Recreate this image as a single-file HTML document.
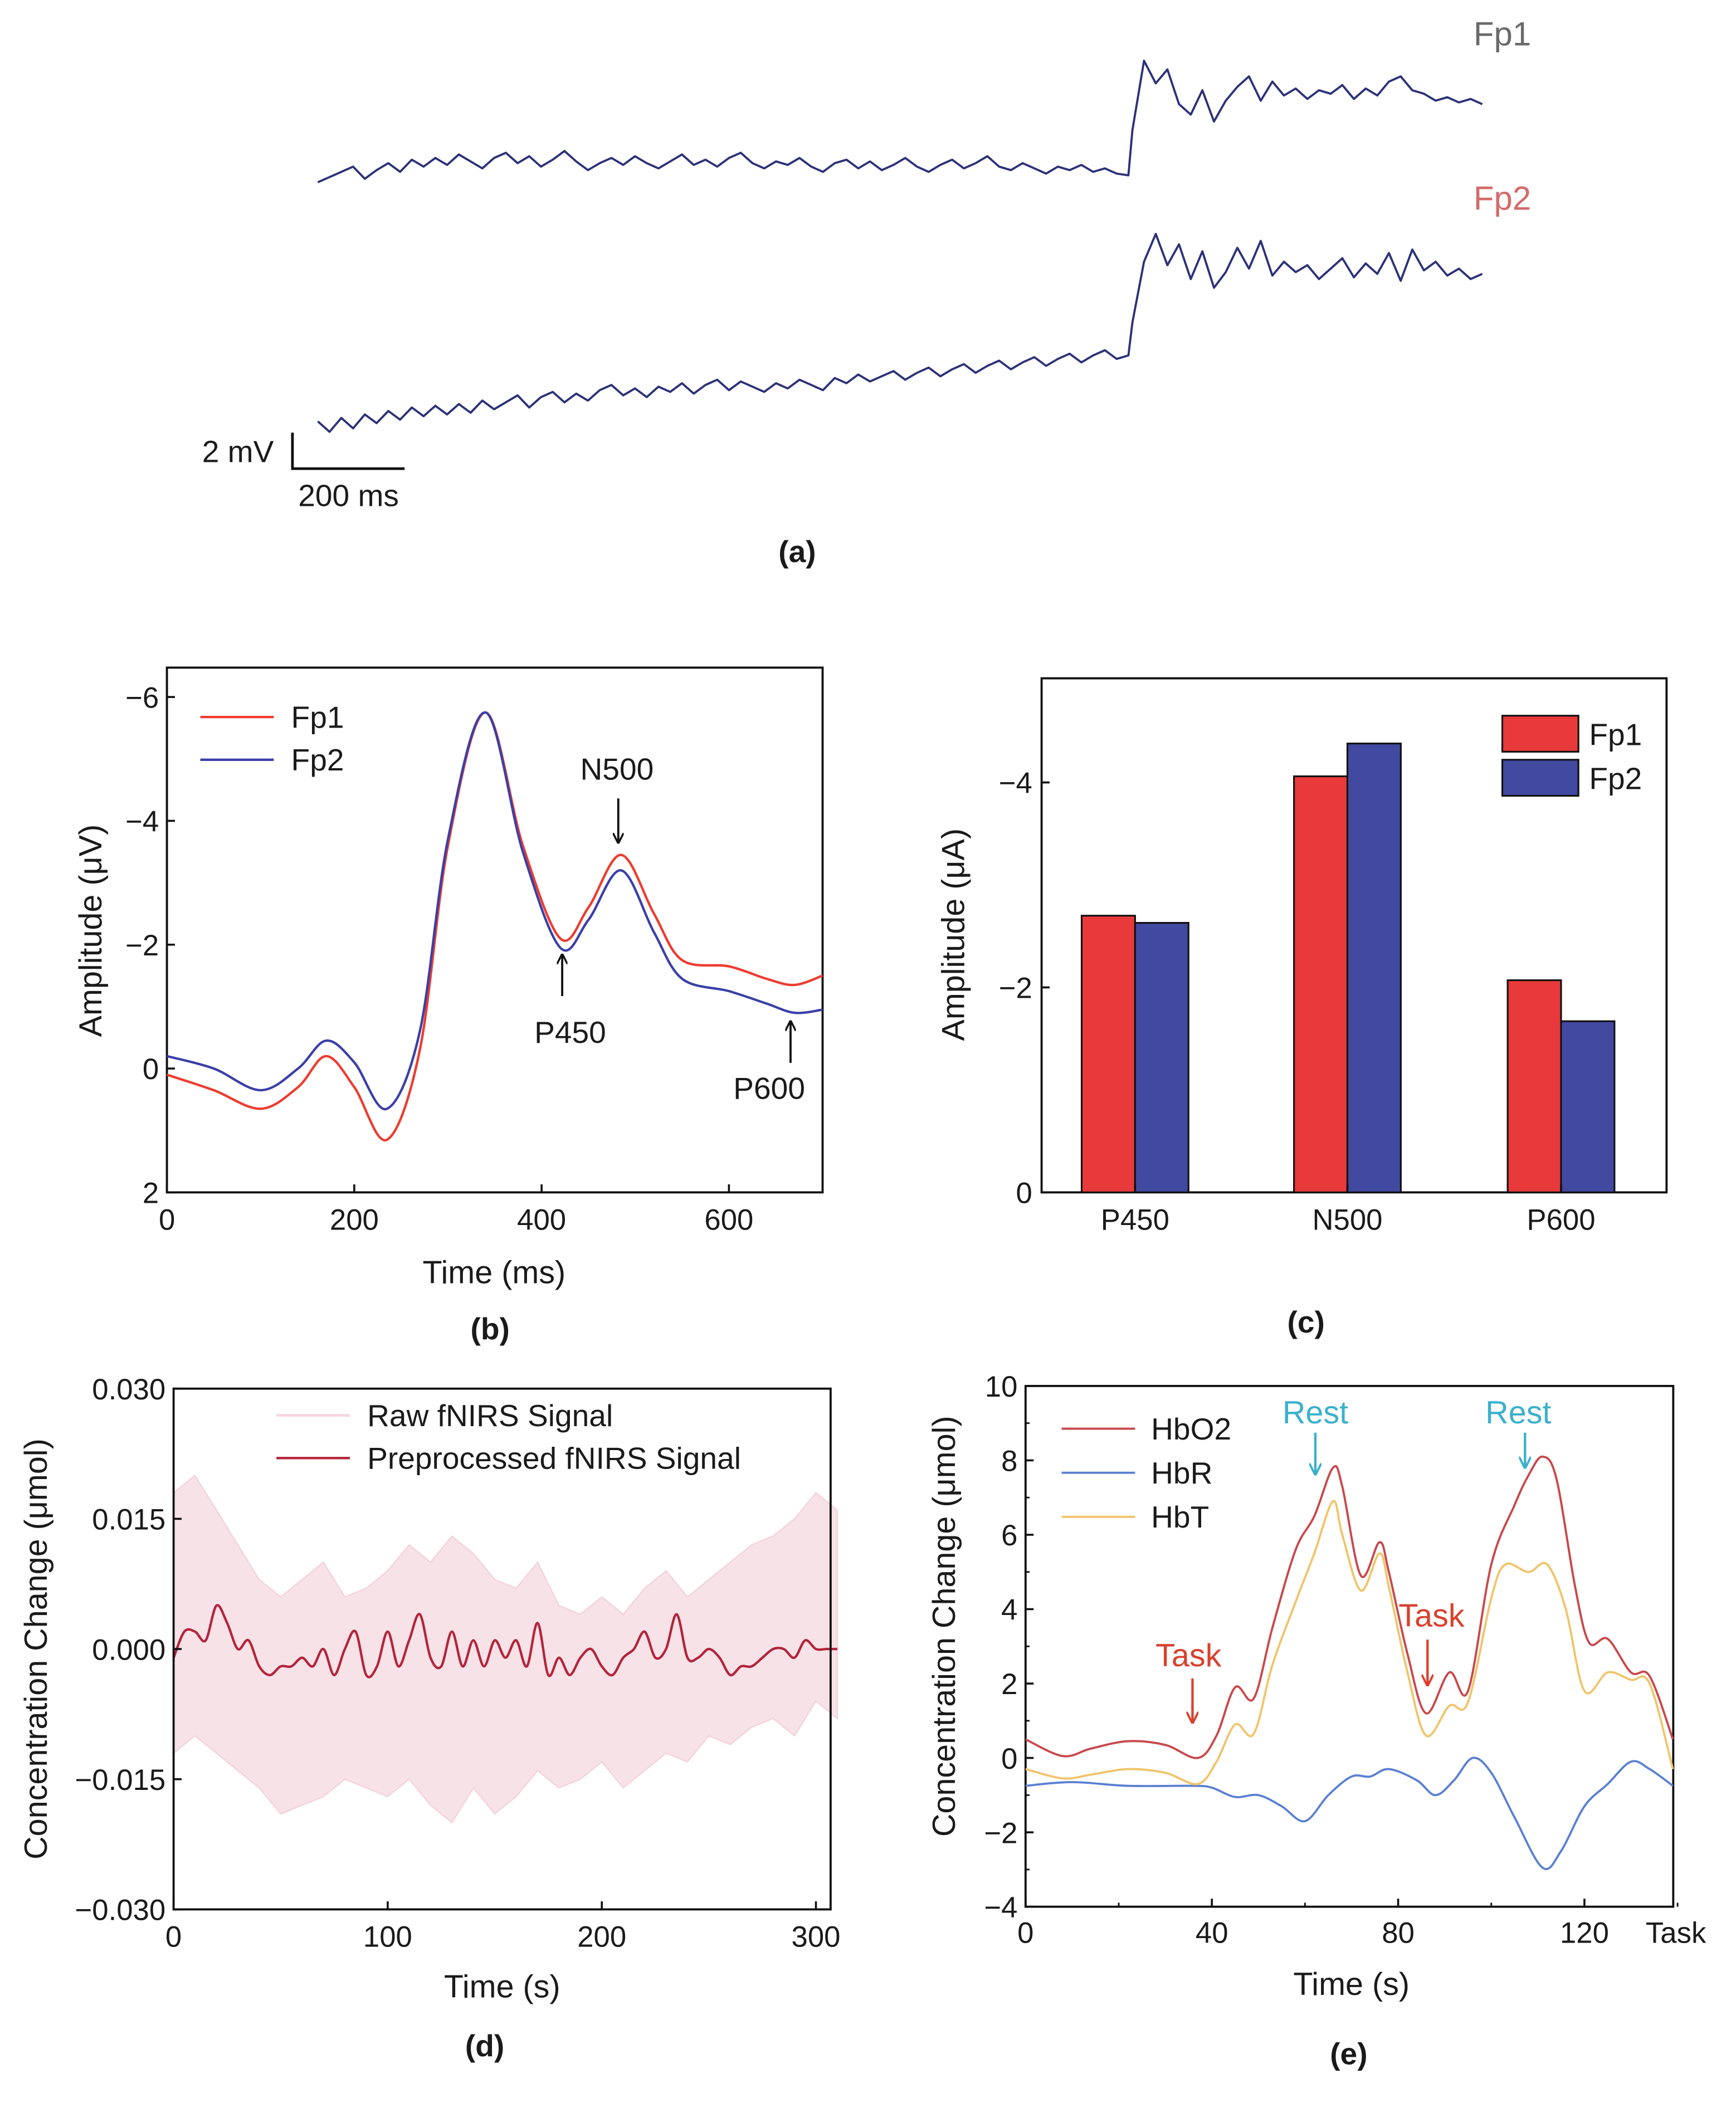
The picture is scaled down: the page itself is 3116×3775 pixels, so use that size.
<!DOCTYPE html>
<html><head><meta charset="utf-8">
<style>
html,body{margin:0;padding:0;background:#fff;}
svg{display:block;}
text{font-family:"Liberation Sans",Arial,sans-serif;fill:#1a1a1a;}
</style></head>
<body>
<svg id="fig" width="3116" height="3775" viewBox="0 0 1300 1575" preserveAspectRatio="none" xmlns="http://www.w3.org/2000/svg">
<defs>
<marker id="ahK" viewBox="0 0 10 10" refX="9" refY="5" markerWidth="5" markerHeight="5" orient="auto"><path d="M0,0 L10,5 L0,10" fill="none" stroke="#111" stroke-width="1.8"/></marker>
<marker id="ahR" viewBox="0 0 10 10" refX="9" refY="5" markerWidth="5" markerHeight="5" orient="auto"><path d="M0,0 L10,5 L0,10" fill="none" stroke="#d9412e" stroke-width="1.8"/></marker>
<marker id="ahC" viewBox="0 0 10 10" refX="9" refY="5" markerWidth="5" markerHeight="5" orient="auto"><path d="M0,0 L10,5 L0,10" fill="none" stroke="#3ab0cc" stroke-width="1.8"/></marker>
</defs>
</svg>
<script>
// ---------- DATA ----------
// (a) EEG traces (mV)
const fp1Pre=[-0.5,-0.2,0.1,0.4,-0.3,0.2,0.6,0.1,0.8,0.4,0.9,0.5,1.1,0.7,0.3,0.9,1.2,0.6,1.0,0.4,0.8,1.3,0.7,0.2,0.6,0.9,0.5,1.0,0.6,0.3,0.7,1.1,0.5,0.8,0.4,0.9,1.2,0.6,0.3,0.7,0.5,0.9,0.4,0.1,0.6,0.8,0.3,0.7,0.2,0.5,0.9,0.4,0.1,0.5,0.8,0.3,0.6,1.0,0.4,0.2,0.6,0.3,0.0,0.4,0.2,0.5,0.1,0.3,0.0,-0.1];
const fp1Post=[2.5,6.5,5.2,6.0,4.0,3.4,4.8,3.0,4.2,5.0,5.6,4.2,5.3,4.5,4.9,4.3,4.8,4.6,5.1,4.3,4.9,4.5,5.3,5.6,4.8,4.6,4.2,4.4,4.1,4.3,4.0];
const fp2Pre=[-1.2,-1.8,-1.0,-1.6,-0.8,-1.3,-0.6,-1.1,-0.4,-0.9,-0.3,-0.8,-0.2,-0.7,0.0,-0.5,-0.1,0.3,-0.4,0.2,0.5,-0.1,0.4,0.0,0.6,0.9,0.3,0.7,0.2,0.8,0.5,1.0,0.4,0.9,1.2,0.6,1.1,0.8,0.5,1.0,0.7,1.2,0.9,0.6,1.3,1.0,1.5,1.1,1.4,1.7,1.2,1.6,1.9,1.4,1.8,2.1,1.6,2.0,2.3,1.8,2.2,2.5,2.0,2.4,2.7,2.2,2.6,2.9,2.4,2.6];
const fp2Post=[4.5,8.0,9.6,7.8,9.0,7.0,8.6,6.5,7.4,8.8,7.6,9.2,7.2,8.0,7.4,7.8,7.0,7.6,8.2,7.1,7.9,7.3,8.5,6.9,8.7,7.5,8.0,7.2,7.6,7.0,7.3];
// (b) ERP
const erpT=[0,50,100,140,170,200,235,270,300,340,380,420,450,485,520,550,600,640,670,700];
const erpFp1=[0.1,0.35,0.65,0.3,-0.2,0.3,1.15,-0.3,-3.6,-5.75,-3.6,-2.1,-2.6,-3.45,-2.5,-1.75,-1.65,-1.45,-1.35,-1.5];
const erpFp2=[-0.2,0.0,0.35,0.0,-0.45,-0.1,0.65,-0.6,-3.7,-5.75,-3.5,-1.95,-2.4,-3.2,-2.2,-1.45,-1.25,-1.05,-0.9,-0.95];
const bTicksY=[-6,-4,-2,0,2];
const bTicksX=[0,200,400,600];
// (c) bars
const barCats=['P450','N500','P600'];
const barFp1=[-2.7,-4.06,-2.07];
const barFp2=[-2.63,-4.38,-1.67];
const cTicksY=[-4,-2,0];
// (d) fNIRS
const rawT=[0,10,20,30,40,50,60,70,80,90,100,110,120,130,140,150,160,170,180,190,200,210,220,230,240,250,260,270,280,290,300,310];
const rawUp=[0.018,0.020,0.016,0.012,0.008,0.006,0.008,0.010,0.006,0.007,0.009,0.012,0.010,0.013,0.011,0.008,0.007,0.010,0.005,0.004,0.006,0.004,0.007,0.009,0.006,0.008,0.010,0.012,0.013,0.015,0.018,0.016];
const rawLo=[-0.012,-0.010,-0.012,-0.014,-0.016,-0.019,-0.018,-0.017,-0.015,-0.016,-0.017,-0.015,-0.018,-0.020,-0.016,-0.019,-0.017,-0.014,-0.016,-0.015,-0.013,-0.016,-0.014,-0.012,-0.013,-0.010,-0.011,-0.009,-0.008,-0.010,-0.006,-0.008];
const ppT=[0,5,10,15,20,25,30,35,40,45,50,55,60,65,70,75,80,85,90,95,100,105,110,115,120,125,130,135,140,145,150,155,160,165,170,175,180,185,190,195,200,205,210,215,220,225,230,235,240,245,250,255,260,265,270,275,280,285,290,295,300,305,310];
const ppV=[-0.001,0.002,0.002,0.001,0.005,0.003,0.0,0.001,-0.002,-0.003,-0.002,-0.002,-0.001,-0.002,0.0,-0.003,0.0,0.002,-0.003,-0.002,0.002,-0.002,0.001,0.004,-0.001,-0.002,0.002,-0.002,0.001,-0.002,0.001,-0.001,0.001,-0.002,0.003,-0.003,-0.001,-0.003,-0.001,0.0,-0.002,-0.003,-0.001,0.0,0.002,-0.001,0.0,0.004,-0.001,-0.001,0.0,-0.001,-0.003,-0.002,-0.002,-0.001,0.0,0.0,-0.001,0.001,0.0,0.0,0.0];
const dTicksY=[0.030,0.015,0.000,-0.015,-0.030];
const dTickLbl=['0.030','0.015','0.000','\u22120.015','\u22120.030'];
const dTicksX=[0,100,200,300];
// (e) hemodynamics
const hbO2T=[0,8,14,22,30,37,41,45,49,53,58,62,66,68,72,76,78,82,86,91,95,100,105,108,111,114,118,121,125,130,134,139];
const hbO2V=[0.5,0.05,0.25,0.45,0.35,0.0,0.6,1.9,1.6,3.5,5.6,6.5,7.8,7.3,4.9,5.8,5.0,2.8,1.2,2.3,1.8,5.2,6.8,7.6,8.1,7.5,4.6,3.1,3.2,2.3,2.2,0.5];
const hbTT=[0,8,14,22,30,37,41,45,49,53,58,62,66,68,72,76,78,82,86,91,95,100,103,108,112,116,120,125,130,134,139];
const hbTV=[-0.3,-0.55,-0.45,-0.3,-0.4,-0.7,-0.1,0.9,0.65,2.5,4.2,5.5,6.9,6.0,4.5,5.5,4.6,2.3,0.6,1.4,1.5,4.3,5.2,5.0,5.2,4.0,1.8,2.3,2.1,2.0,-0.3];
const hbRT=[0,10,22,36,40,45,50,55,60,65,70,74,78,84,88,92,96,100,105,111,115,120,125,130,134,139];
const hbRV=[-0.75,-0.65,-0.75,-0.75,-0.8,-1.05,-1.0,-1.3,-1.7,-1.0,-0.5,-0.5,-0.3,-0.6,-1.0,-0.6,0.0,-0.4,-1.6,-2.95,-2.5,-1.3,-0.7,-0.1,-0.3,-0.75];
const eTicksY=[10,8,6,4,2,0,-2,-4];
const eTicksX=[0,40,80,120];

// ---------- HELPERS ----------
const svg=document.getElementById('fig');
const NS='http://www.w3.org/2000/svg';
function el(tag,attrs,parent){const e=document.createElementNS(NS,tag);for(const k in attrs)e.setAttribute(k,attrs[k]);(parent||svg).appendChild(e);return e;}
function txt(s,x,y,size,anchor,extra,parent){const t=el('text',Object.assign({x:x,y:y,'font-size':size,'text-anchor':anchor||'middle'},extra||{}),parent);t.textContent=s;return t;}
function smooth(pts){let d='M'+pts[0][0].toFixed(2)+','+pts[0][1].toFixed(2);for(let i=0;i<pts.length-1;i++){const p0=pts[i-1]||pts[i],p1=pts[i],p2=pts[i+1],p3=pts[i+2]||p2;const c1=[p1[0]+(p2[0]-p0[0])/6,p1[1]+(p2[1]-p0[1])/6],c2=[p2[0]-(p3[0]-p1[0])/6,p2[1]-(p3[1]-p1[1])/6];d+=' C'+c1[0].toFixed(2)+','+c1[1].toFixed(2)+' '+c2[0].toFixed(2)+','+c2[1].toFixed(2)+' '+p2[0].toFixed(2)+','+p2[1].toFixed(2);}return d;}
function lin(d0,d1,r0,r1){return v=>r0+(v-d0)/(d1-d0)*(r1-r0);}

// ---------- (a) ----------
const ga=el('g',{});


function trace(pre,post,baseY,name){
  const xsA=lin(0,pre.length-1,238,845), xsB=lin(0,post.length-1,848,1110), ys=v=>baseY-v*13;
  const pts=pre.map((v,i)=>xsA(i).toFixed(1)+','+ys(v).toFixed(1)).concat(post.map((v,i)=>xsB(i).toFixed(1)+','+ys(v).toFixed(1)));
  const p=el('polyline',{points:pts.join(' '),fill:'none',stroke:'#2d3178','stroke-width':1.6,'stroke-linejoin':'round'},ga);
  
  
}
trace(fp1Pre,fp1Post,130,'fp1-eeg-trace');
trace(fp2Pre,fp2Post,300,'fp2-eeg-trace');
let t=txt('Fp1',1125,34,25,'middle',{style:'fill:#6a6a6a'},ga);
t=txt('Fp2',1125,157,25,'middle',{style:'fill:#d46a6a'},ga);
let sb=el('path',{d:'M219,324 L219,351 L303,351',fill:'none',stroke:'#111','stroke-width':2},ga);
t=txt('2 mV',205,346,23,'end',{},ga);
t=txt('200 ms',261,379,23,'middle',{},ga);
t=txt('(a)',597,421,23,'middle',{'font-weight':'bold'},ga);

function frame(g,x0,y0,x1,y1){const r=el('rect',{x:x0,y:y0,width:x1-x0,height:y1-y0,fill:'none',stroke:'#111','stroke-width':1.6},g);}

// ---------- (b) ----------
const gb=el('g',{});


const bx=lin(0,700,125,616), by=lin(-6,2,522,893);
frame(gb,125,500,616,893);
bTicksY.forEach(v=>{el('line',{x1:125,x2:131,y1:by(v),y2:by(v),stroke:'#111','stroke-width':1.5},gb);const s=txt(v<0?'\u2212'+(-v):String(v),119,by(v)+8,22,'end',{},gb);});
bTicksX.forEach(v=>{el('line',{x1:bx(v),x2:bx(v),y1:893,y2:887,stroke:'#111','stroke-width':1.5},gb);const s=txt(String(v),bx(v),921,22,'middle',{},gb);});
let pb=el('path',{d:smooth(erpT.map((tt,i)=>[bx(tt),by(erpFp1[i])])),fill:'none',stroke:'#ee3b2f','stroke-width':1.8},gb);

pb=el('path',{d:smooth(erpT.map((tt,i)=>[bx(tt),by(erpFp2[i])])),fill:'none',stroke:'#3a3fa8','stroke-width':1.8},gb);

el('line',{x1:150,x2:205,y1:537,y2:537,stroke:'#ee3b2f','stroke-width':1.8},gb);
t=txt('Fp1',218,545,23,'start',{},gb);
el('line',{x1:150,x2:205,y1:569,y2:569,stroke:'#3a3fa8','stroke-width':1.8},gb);
t=txt('Fp2',218,577,23,'start',{},gb);
el('line',{x1:463,x2:463,y1:598,y2:631,stroke:'#111','stroke-width':1.6,'marker-end':'url(#ahK)'},gb);
t=txt('N500',462,584,23,'middle',{},gb);
el('line',{x1:421,x2:421,y1:746,y2:715,stroke:'#111','stroke-width':1.6,'marker-end':'url(#ahK)'},gb);
t=txt('P450',427,781,23,'middle',{},gb);
el('line',{x1:592,x2:592,y1:796,y2:765,stroke:'#111','stroke-width':1.6,'marker-end':'url(#ahK)'},gb);
t=txt('P600',576,823,23,'middle',{},gb);
t=txt('Time (ms)',370,961,24,'middle',{},gb);
t=txt('Amplitude (\u03bcV)',0,0,24,'middle',{transform:'translate(76,697) rotate(-90)'},gb);
t=txt('(b)',367,1003,23,'middle',{'font-weight':'bold'},gb);

// ---------- (c) ----------
const gc=el('g',{});


const cy=lin(0,-4,893,586), cCenters=[850,1009,1169];
frame(gc,780,508,1248,893);
cTicksY.forEach(v=>{el('line',{x1:780,x2:786,y1:cy(v),y2:cy(v),stroke:'#111','stroke-width':1.5},gc);const s=txt(v<0?'\u2212'+(-v):String(v),773,cy(v)+8,22,'end',{},gc);});
barCats.forEach((c,i)=>{
  let r=el('rect',{x:cCenters[i]-40,y:cy(barFp1[i]),width:40,height:893-cy(barFp1[i]),fill:'#e8393b',stroke:'#111','stroke-width':1.3},gc);
  
  r=el('rect',{x:cCenters[i],y:cy(barFp2[i]),width:40,height:893-cy(barFp2[i]),fill:'#4149a0',stroke:'#111','stroke-width':1.3},gc);
  
  el('line',{x1:cCenters[i],x2:cCenters[i],y1:893,y2:887,stroke:'#111','stroke-width':1.5},gc);
  const s=txt(c,cCenters[i],921,22,'middle',{},gc);
});
el('rect',{x:1125,y:536,width:57,height:27,fill:'#e8393b',stroke:'#111','stroke-width':1.3},gc);
t=txt('Fp1',1190,558,23,'start',{},gc);
el('rect',{x:1125,y:569,width:57,height:27,fill:'#4149a0',stroke:'#111','stroke-width':1.3},gc);
t=txt('Fp2',1190,591,23,'start',{},gc);
t=txt('Amplitude (\u03bcA)',0,0,24,'middle',{transform:'translate(722,700) rotate(-90)'},gc);
t=txt('(c)',978,998,23,'middle',{'font-weight':'bold'},gc);

// ---------- (d) ----------
const gd=el('g',{});


const dx=lin(0,300,130,611), dy=lin(0.030,-0.030,1040,1430);
const env=rawT.map((tt,i)=>dx(tt).toFixed(1)+','+dy(rawUp[i]).toFixed(1)).concat(rawT.slice().reverse().map((tt,j)=>{const i=rawT.length-1-j;return dx(tt).toFixed(1)+','+dy(rawLo[i]).toFixed(1);}));
let pd=el('polygon',{points:env.join(' '),fill:'#f7e2e8',stroke:'#f3d3dc','stroke-width':1},gd);

pd=el('path',{d:smooth(ppT.map((tt,i)=>[dx(tt),dy(ppV[i])])),fill:'none',stroke:'#b3243a','stroke-width':1.8},gd);

frame(gd,130,1040,622,1430);
dTicksY.forEach((v,i)=>{el('line',{x1:130,x2:136,y1:dy(v),y2:dy(v),stroke:'#111','stroke-width':1.5},gd);const s=txt(dTickLbl[i],124,dy(v)+8,22,'end',{},gd);});
dTicksX.forEach(v=>{el('line',{x1:dx(v),x2:dx(v),y1:1430,y2:1424,stroke:'#111','stroke-width':1.5},gd);const s=txt(String(v),dx(v),1458,22,'middle',{},gd);});
el('line',{x1:207,x2:262,y1:1060,y2:1060,stroke:'#f3d6de','stroke-width':2},gd);
t=txt('Raw fNIRS Signal',275,1068,23,'start',{},gd);
el('line',{x1:207,x2:262,y1:1092,y2:1092,stroke:'#b3243a','stroke-width':1.8},gd);
t=txt('Preprocessed fNIRS Signal',275,1100,23,'start',{},gd);
t=txt('Time (s)',376,1496,24,'middle',{},gd);
t=txt('Concentration Change (\u03bcmol)',0,0,24,'middle',{transform:'translate(35,1235) rotate(-90)'},gd);
t=txt('(d)',363,1540,23,'middle',{'font-weight':'bold'},gd);

// ---------- (e) ----------
const ge=el('g',{});


const ex=lin(0,40,768,907.5), ey=lin(10,-4,1038,1428);
frame(ge,768,1038,1253,1428);
eTicksY.forEach(v=>{el('line',{x1:768,x2:774,y1:ey(v),y2:ey(v),stroke:'#111','stroke-width':1.5},ge);if(v>-4)el('line',{x1:768,x2:771,y1:ey(v-1),y2:ey(v-1),stroke:'#111','stroke-width':1.2},ge);const s=txt(v<0?'\u2212'+(-v):String(v),762,ey(v)+8,22,'end',{},ge);});
eTicksX.forEach(v=>{el('line',{x1:ex(v),x2:ex(v),y1:1428,y2:1422,stroke:'#111','stroke-width':1.5},ge);el('line',{x1:ex(v+20),x2:ex(v+20),y1:1428,y2:1425,stroke:'#111','stroke-width':1.2},ge);const s=txt(String(v),ex(v),1455,22,'middle',{},ge);});
t=txt('Task',1255,1455,22,'middle',{},ge);
function eLine(T,V,col,name){const p=el('path',{d:smooth(T.map((tt,i)=>[ex(tt),ey(V[i])])),fill:'none',stroke:col,'stroke-width':1.6},ge);}
eLine(hbRT,hbRV,'#5b80d2','hbr-line');
eLine(hbTT,hbTV,'#f0c46a','hbt-line');
eLine(hbO2T,hbO2V,'#c9474a','hbo2-line');
[['HbO2','#c9474a',1070],['HbR','#5b80d2',1103],['HbT','#f0c46a',1136]].forEach(l=>{el('line',{x1:795,x2:850,y1:l[2],y2:l[2],stroke:l[1],'stroke-width':1.6},ge);const s=txt(l[0],862,l[2]+8,23,'start',{},ge);});
t=txt('Rest',985,1066,24,'middle',{style:'fill:#3ab0cc'},ge);
el('line',{x1:985,x2:985,y1:1073,y2:1104,stroke:'#3ab0cc','stroke-width':1.8,'marker-end':'url(#ahC)'},ge);
t=txt('Rest',1137,1066,24,'middle',{style:'fill:#3ab0cc'},ge);
el('line',{x1:1142,x2:1142,y1:1073,y2:1099,stroke:'#3ab0cc','stroke-width':1.8,'marker-end':'url(#ahC)'},ge);
t=txt('Task',890,1248,24,'middle',{style:'fill:#d9412e'},ge);
el('line',{x1:893,x2:893,y1:1257,y2:1290,stroke:'#d9412e','stroke-width':1.8,'marker-end':'url(#ahR)'},ge);
t=txt('Task',1072,1218,24,'middle',{style:'fill:#d9412e'},ge);
el('line',{x1:1069,x2:1069,y1:1228,y2:1262,stroke:'#d9412e','stroke-width':1.8,'marker-end':'url(#ahR)'},ge);
t=txt('Time (s)',1012,1494,24,'middle',{},ge);
t=txt('Concentration Change (\u03bcmol)',0,0,24,'middle',{transform:'translate(715,1218) rotate(-90)'},ge);
t=txt('(e)',1010,1546,23,'middle',{'font-weight':'bold'},ge);
</script>
</body></html>
